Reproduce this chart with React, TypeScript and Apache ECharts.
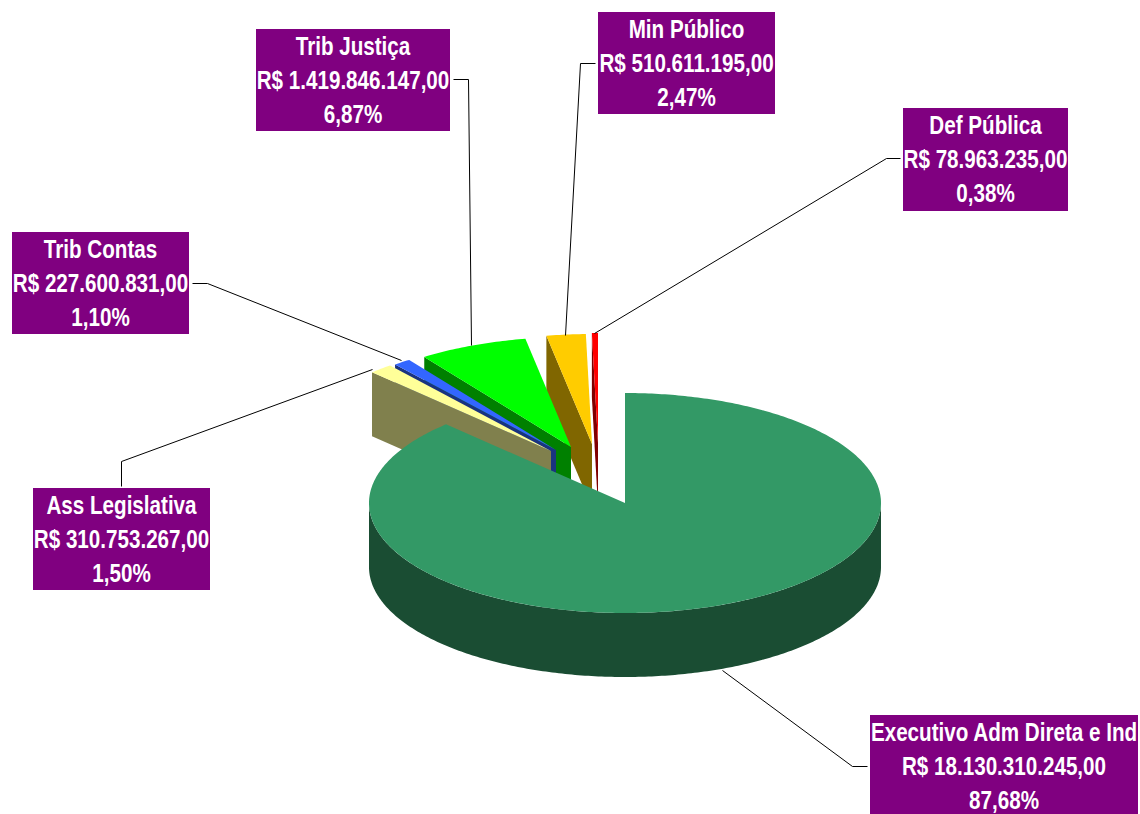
import React, { useEffect, useRef } from "react";
import * as echarts from "echarts";

const names = ["Executivo Adm Direta e Ind", "Ass Legislativa", "Trib Contas", "Trib Justiça", "Min Público", "Def Pública"];
const values = [18130310245, 310753267, 227600831, 1419846147, 510611195, 78963235];
const valueLabels = ["R$ 18.130.310.245,00", "R$ 310.753.267,00", "R$ 227.600.831,00", "R$ 1.419.846.147,00", "R$ 510.611.195,00", "R$ 78.963.235,00"];
const percentLabels = ["87,68%", "1,50%", "1,10%", "6,87%", "2,47%", "0,38%"];

const topColors = ["#339966", "#FFFF99", "#3366FF", "#00FF00", "#FFCC00", "#FF0000"];
const sideColors = ["#1A4D33", "#80804D", "#1A3380", "#008000", "#806600", "#800000"];

// Layout of the 3D pie
const CX = 625, CY = 503, RX = 256, RY = 110, DEPTH = 64;
const explodeX = [0, -74, -69, -54, -33, -27];
const explodeY = [0, -52, -53, -56, -59, -60];

// Label boxes [left, top, right, bottom] and leader lines
const boxes = [
  [870, 715, 1138, 814], [33, 488, 210, 590], [12, 232, 189, 334],
  [256, 29, 450, 131], [598, 12, 775, 114], [903, 108, 1068, 211],
];
const leaders = [
  [[867, 766], [852, 766], [722, 670]],
  [[121, 486], [121, 461], [372, 369]],
  [[192, 283], [207, 283], [401, 360]],
  [[453, 79], [468, 79], [471, 345]],
  [[595, 63], [580, 63], [565, 335]],
  [[900, 158], [886, 158], [594, 333]],
];

const total = values.reduce((a, b) => a + b, 0);
const startDeg: number[] = [];
values.reduce((acc, v, i) => { startDeg[i] = (acc / total) * 360; return acc + v; }, 0);

const rim = (deg: number, ox: number, oy: number, dz = 0) => {
  const r = (deg * Math.PI) / 180;
  return [CX + ox + RX * Math.sin(r), CY + oy - RY * Math.cos(r) + dz];
};
const arc = (a: number, b: number, ox: number, oy: number, dz = 0) => {
  const n = Math.max(2, Math.ceil(Math.abs(b - a) / 0.75));
  const pts: number[][] = [];
  for (let k = 0; k <= n; k++) pts.push(rim(a + ((b - a) * k) / n, ox, oy, dz));
  return pts;
};

const renderSlice = (params: any, api: any) => {
  const i = params.dataIndex;
  const a = startDeg[i];
  const b = a + (api.value(0) / total) * 360;
  const ox = explodeX[i], oy = explodeY[i];
  const tip = [CX + ox, CY + oy];
  const base = 10 * (values.length - i);
  const children: any[] = [];
  const poly = (points: number[][], fill: string, z2: number) =>
    children.push({ type: "polygon", shape: { points }, style: { fill, stroke: "none" }, z2, silent: true });

  // cut face at the start edge, seen when it faces the viewer
  if (a > 180 && a < 360) {
    const o = rim(a, ox, oy);
    poly([tip, o, [o[0], o[1] + DEPTH], [tip[0], tip[1] + DEPTH]], sideColors[i], base);
  }
  // outer wall, on the front half of the rim only
  const wa = Math.max(a, 90), wb = Math.min(b, 270);
  if (wb > wa) {
    poly([...arc(wa, wb, ox, oy), ...arc(wb, wa, ox, oy, DEPTH)], sideColors[i], base + 1);
  }
  poly([tip, ...arc(a, b, ox, oy)], topColors[i], base + 2);
  return { type: "group", children };
};

const labelGraphics = () => {
  const out: any[] = [];
  names.forEach((name, i) => {
    const [l, t, r, btm] = boxes[i];
    out.push({
      type: "polyline", silent: true, z: 5,
      shape: { points: leaders[i].map(([x, y]) => [x + 0.5, y + 0.5]) },
      style: { stroke: "#000000", lineWidth: 1, fill: "none" },
    });
    out.push({
      type: "rect", silent: true, z: 6,
      shape: { x: l, y: t, width: r - l, height: btm - t },
      style: { fill: "#800080" },
    });
    out.push({
      type: "text", silent: true, z: 7,
      x: (l + r) / 2, y: t + 51,
      scaleX: 0.825,
      style: {
        text: `${name}\n${valueLabels[i]}\n${percentLabels[i]}`,
        fill: "#FFFFFF",
        font: 'bold 25px "Liberation Sans", sans-serif',
        lineHeight: 34, align: "center", verticalAlign: "middle",
      },
    });
  });
  return out;
};

export default function App() {
  const ref = useRef<HTMLDivElement>(null);
  useEffect(() => {
    document.body.style.margin = "0";
    const chart = echarts.init(ref.current!, undefined, { renderer: "svg" });
    chart.setOption({
      animation: false,
      backgroundColor: "#FFFFFF",
      series: [{
        type: "custom",
        coordinateSystem: "none",
        renderItem: renderSlice,
        data: values.map((v, i) => ({ name: names[i], value: [v] })),
        silent: true,
      }],
      graphic: labelGraphics(),
    });
    return () => chart.dispose();
  }, []);
  return <div ref={ref} style={{ position: "fixed", left: 0, top: 0, width: 1140, height: 814 }} />;
}
